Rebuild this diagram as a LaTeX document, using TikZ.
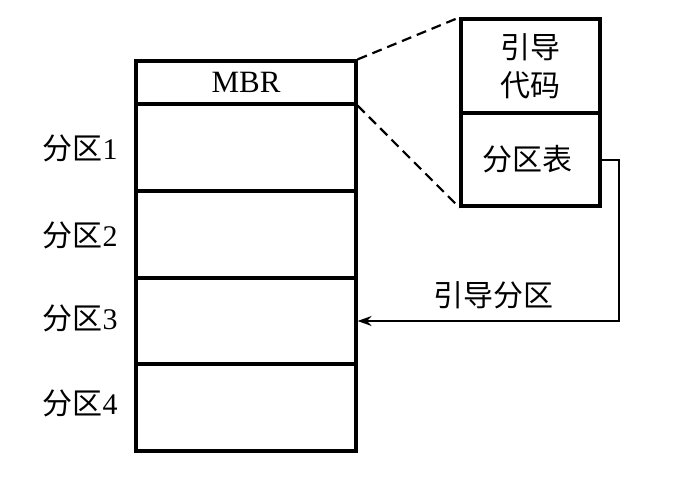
\documentclass[tikz,border=0pt]{standalone}
\usepackage{fontspec}
\setmainfont{Liberation Serif}
\newfontfamily\cjk{Noto Sans CJK SC}
\usetikzlibrary{arrows.meta}
\begin{document}
\begin{tikzpicture}[x=1pt,y=-1pt,
  cell/.style={draw,line width=3.2pt,minimum width=220pt,inner sep=0pt,font=\fontsize{31}{34}\selectfont},
  rcell/.style={draw,line width=3.2pt,minimum width=139pt,inner sep=0pt,font=\fontsize{30}{38}\selectfont\cjk,align=center},
  lbl/.style={font=\fontsize{30}{34}\selectfont,inner sep=0pt},
  zoomline/.style={line width=2.2pt,dash pattern=on 10pt off 6pt},
  link/.style={line width=1.8pt,-{Stealth[length=14pt,width=10pt]}}]
\useasboundingbox (0,0) rectangle (698,486);
\node[cell,minimum height=43pt] (mbr) at (246,82.5) {MBR};
\node[cell,minimum height=87pt] (p1) at (246,147.5) {};
\node[cell,minimum height=87pt] (p2) at (246,234.5) {};
\node[cell,minimum height=86pt] (p3) at (246,321) {};
\node[cell,minimum height=87pt] (p4) at (246,407.5) {};
\node[rcell,minimum height=94pt] (code) at (530.5,66) {引导\\代码};
\node[rcell,minimum height=93pt] (pt) at (530.5,159.5) {};
\node[lbl,font=\fontsize{30}{34}\selectfont\cjk] (ptl) at (527,159) {分区表};
\node[lbl] (l1) at (80,148) {{\cjk 分区}1};
\node[lbl] (l2) at (80,235) {{\cjk 分区}2};
\node[lbl] (l3) at (80,318) {{\cjk 分区}3};
\node[lbl] (l4) at (80,403) {{\cjk 分区}4};
\draw[zoomline] (mbr.north east) -- (code.north west);
\draw[zoomline] (mbr.south east) -- (pt.south west);
\coordinate (start) at (pt.east |- 0,160);
\coordinate (turn) at (619,160);
\draw[link] (start) -- (turn) |- (p3.east);
\node[lbl,font=\fontsize{30}{34}\selectfont\cjk] (bl) at (493,295) {引导分区};
\end{tikzpicture}
\end{document}
